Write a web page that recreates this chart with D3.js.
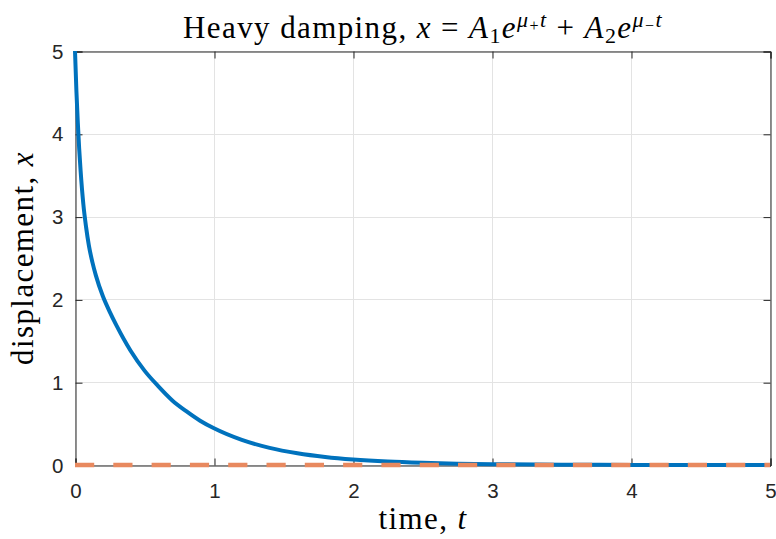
<!DOCTYPE html>
<html>
<head>
<meta charset="utf-8">
<script src="https://cdn.jsdelivr.net/npm/d3@7"></script>
<style>
  body { margin: 0; background: #fff; }
  .tick text { font-family: "Liberation Sans", Arial, sans-serif; }
</style>
</head>
<body>
<div id="graf"></div>
<script>
const graf = d3.select("#graf")

const anchoTotal = 776
const altoTotal = 539
const margins = { left: 75, top: 51, right: 5, bottom: 74 }
const ancho = anchoTotal - margins.left - margins.right
const alto = altoTotal - margins.top - margins.bottom

// Data
const tiempo = [0, 0.01, 0.02, 0.03, 0.04, 0.06, 0.08, 0.1, 0.125, 0.15, 0.2, 0.25,
  0.3, 0.4, 0.5, 0.6, 0.7, 0.8, 0.9, 1.0, 1.2, 1.4, 1.6, 1.8, 2.0, 2.25, 2.5,
  2.75, 3.0, 3.5, 4.0, 4.5, 5.0]
const desplazamiento = [5.0, 4.52, 4.14, 3.82, 3.56, 3.15, 2.87, 2.65, 2.45, 2.29,
  2.04, 1.85, 1.68, 1.38, 1.14, 0.95, 0.78, 0.65, 0.535, 0.443, 0.303, 0.207,
  0.142, 0.097, 0.066, 0.041, 0.026, 0.016, 0.01, 0.004, 0.0015, 0.0006, 0.0002]
const ceroT = [0, 5]
const ceroX = [0, 0]
const ticksX = [0, 1, 2, 3, 4, 5]
const ticksY = [0, 1, 2, 3, 4, 5]

const svg = graf
  .append("svg")
  .attr("width", anchoTotal)
  .attr("height", altoTotal)

const g = svg
  .append("g")
  .attr("transform", `translate(${margins.left}, ${margins.top})`)

// Escaladores
const x = d3.scaleLinear().domain([0, 5]).range([0, ancho - 1])
const y = d3.scaleLinear().domain([0, 5]).range([alto, 0])

const ink = "#262626"

// grid
g.append("g")
  .selectAll("line")
  .data(ticksX)
  .join("line")
  .attr("x1", (d) => Math.round(x(d)) + 0.5)
  .attr("x2", (d) => Math.round(x(d)) + 0.5)
  .attr("y1", 0)
  .attr("y2", alto)
  .attr("stroke", "#e3e3e3")
g.append("g")
  .selectAll("line")
  .data(ticksY)
  .join("line")
  .attr("y1", (d) => Math.round(y(d)) + 0.5)
  .attr("y2", (d) => Math.round(y(d)) + 0.5)
  .attr("x1", 0)
  .attr("x2", x(5))
  .attr("stroke", "#e3e3e3")

// axes
const ejeX = g.append("g")
  .attr("transform", `translate(0.5, ${alto + 0.5})`)
  .call(d3.axisBottom(x).tickValues(ticksX).tickSize(-7).tickPadding(18).tickFormat(d3.format("d")))
const ejeXTop = g.append("g")
  .attr("transform", `translate(0.5, 0.5)`)
  .call(d3.axisTop(x).tickValues(ticksX).tickSize(-7).tickFormat(""))
const ejeY = g.append("g")
  .attr("transform", `translate(0.5, 0.5)`)
  .call(d3.axisLeft(y).tickValues(ticksY).tickSize(-7).tickPadding(12).tickFormat(d3.format("d")))
const ejeYRight = g.append("g")
  .attr("transform", `translate(${x(5) + 0.5}, 0.5)`)
  .call(d3.axisRight(y).tickValues(ticksY).tickSize(-7).tickFormat(""))

for (const e of [ejeX, ejeXTop, ejeY, ejeYRight]) {
  e.select(".domain").attr("stroke", ink).attr("stroke-width", 1)
  e.selectAll(".tick line").attr("stroke", ink)
  e.selectAll(".tick text").attr("fill", ink).attr("font-size", 20.5)
}
ejeX.selectAll(".tick text").attr("dy", "0.71em")

// lines
const linea = d3.line()
  .x((d, i) => x(tiempo[i]))
  .y((d) => y(d))
  .curve(d3.curveMonotoneX)

g.append("path")
  .datum(desplazamiento)
  .attr("d", linea)
  .attr("fill", "none")
  .attr("stroke", "#0072bd")
  .attr("stroke-width", 4)

const linea0 = d3.line()
  .x((d, i) => x(ceroT[i]))
  .y((d) => y(d))

g.append("path")
  .datum(ceroX)
  .attr("d", linea0)
  .attr("fill", "none")
  .attr("stroke", "#e8895f")
  .attr("stroke-width", 4.5)
  .attr("stroke-dasharray", "19.2,19.1")

// text
const serif = "'Liberation Serif', 'DejaVu Serif', serif"
const fs = 31
const ls = 1.4
const cx = margins.left + ancho / 2

const titulo = svg.append("text")
  .attr("x", cx)
  .attr("y", 38)
  .attr("text-anchor", "middle")
  .attr("font-family", serif)
  .attr("font-size", fs)
  .attr("letter-spacing", ls)
  .attr("fill", "#000")

const partes = [
  { t: "Heavy damping, " },
  { t: "x", i: true },
  { t: " = " },
  { t: "A", i: true },
  { t: "1", s: 22, dy: 5 },
  { t: "e", i: true, dy: -5 },
  { t: "μ", i: true, s: 22, dy: -11 },
  { t: "+", s: 16, dy: 4 },
  { t: "t", i: true, s: 22, dy: -4 },
  { t: " + ", dy: 11 },
  { t: "A", i: true },
  { t: "2", s: 22, dy: 5 },
  { t: "e", i: true, dy: -5 },
  { t: "μ", i: true, s: 22, dy: -11 },
  { t: "−", s: 16, dy: 4 },
  { t: "t", i: true, s: 22, dy: -4 },
]
for (const p of partes) {
  titulo.append("tspan")
    .attr("dy", p.dy || 0)
    .attr("font-size", p.s || fs)
    .attr("font-style", p.i ? "italic" : "normal")
    .text(p.t)
}

const etX = svg.append("text")
  .attr("x", cx)
  .attr("y", 529)
  .attr("text-anchor", "middle")
  .attr("font-family", serif)
  .attr("font-size", fs)
  .attr("letter-spacing", ls)
etX.append("tspan").text("time, ")
etX.append("tspan").attr("font-style", "italic").text("t")

const etY = svg.append("text")
  .attr("transform", `translate(33, ${margins.top + alto / 2}) rotate(-90)`)
  .attr("text-anchor", "middle")
  .attr("font-family", serif)
  .attr("font-size", fs)
  .attr("letter-spacing", ls)
etY.append("tspan").text("displacement, ")
etY.append("tspan").attr("font-style", "italic").text("x")
</script>
</body>
</html>
